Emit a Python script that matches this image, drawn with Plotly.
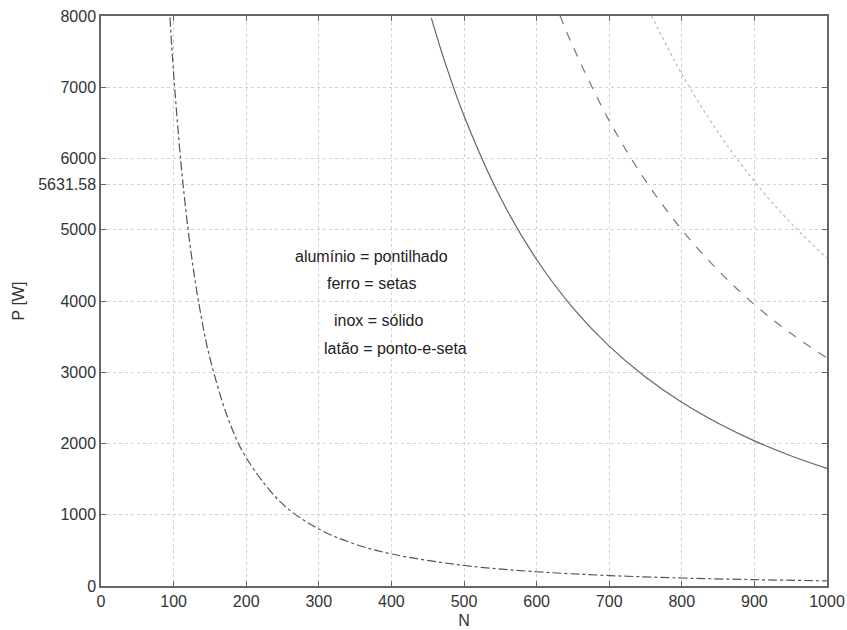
import plotly.graph_objects as go

# latão (ponto-e-seta, dash-dot)
latao_N = [95, 100, 110, 120, 130, 140, 150, 175, 200, 250, 300, 350, 400, 500, 600, 700, 800, 900, 1000]
latao_P = [7978, 7200, 5950, 5000, 4260, 3673, 3200, 2351, 1800, 1152, 800, 588, 450, 288, 200, 147, 112, 89, 72]

# inox (sólido)
inox_N = [455, 475, 500, 550, 600, 650, 700, 750, 800, 850, 900, 950, 1000]
inox_P = [7970, 7313, 6600, 5455, 4583, 3905, 3367, 2933, 2578, 2284, 2037, 1828, 1650]

# ferro (setas, dashed)
ferro_N = [632, 650, 700, 750, 800, 850, 900, 950, 1000]
ferro_P = [8011, 7574, 6531, 5689, 5000, 4429, 3951, 3546, 3200]

# alumínio (pontilhado, dotted)
alum_N = [758, 800, 850, 900, 950, 1000]
alum_P = [8006, 7188, 6367, 5679, 5097, 4600]

x_ticks = [0, 100, 200, 300, 400, 500, 600, 700, 800, 900, 1000]
y_ticks = [0, 1000, 2000, 3000, 4000, 5000, 5631.58, 6000, 7000, 8000]
y_ticktext = ["0", "1000", "2000", "3000", "4000", "5000", "5631.58", "6000", "7000", "8000"]

notes = [
    (264, 4618, "alumínio = pontilhado"),
    (309, 4239, "ferro = setas"),
    (318, 3733, "inox = sólido"),
    (304, 3340, "latão = ponto-e-seta"),
]

FONT = "Arial, Liberation Sans"

fig = go.Figure()
fig.add_trace(go.Scatter(x=latao_N, y=latao_P, mode="lines", line=dict(color="#555555", width=1.2, dash="dashdot", shape="spline")))
fig.add_trace(go.Scatter(x=inox_N, y=inox_P, mode="lines", line=dict(color="#666666", width=1.2, shape="spline")))
fig.add_trace(go.Scatter(x=ferro_N, y=ferro_P, mode="lines", line=dict(color="#777777", width=1.2, dash="dash", shape="spline")))
fig.add_trace(go.Scatter(x=alum_N, y=alum_P, mode="lines", line=dict(color="#bbbbbb", width=1.2, dash="dot", shape="spline")))

for x, y, t in notes:
    fig.add_annotation(x=x, y=y, text=t, showarrow=False, xanchor="left", yanchor="middle",
                       font=dict(family=FONT, size=16, color="#222222"))

axis_common = dict(showline=True, linecolor="#666666", linewidth=1.5, mirror="ticks",
                   ticks="inside", ticklen=5, tickcolor="#666666", automargin=False,
                   ticklabeloverflow="allow",
                   showgrid=True, gridcolor="#d0d0d0", griddash="dot", gridwidth=1,
                   zeroline=False, tickfont=dict(family=FONT, size=16, color="#333333"))

fig.update_xaxes(range=[0, 1000], tickvals=x_ticks, title=dict(text="N", standoff=6,
                 font=dict(family=FONT, size=16, color="#333333")), **axis_common)
fig.update_yaxes(range=[0, 8000], tickvals=y_ticks, ticktext=y_ticktext, title=dict(text="P [W]", standoff=10,
                 font=dict(family=FONT, size=16, color="#333333")), **axis_common)

fig.update_layout(width=847, height=630, margin=dict(l=101, r=20, t=16, b=44, autoexpand=False),
                  plot_bgcolor="white", paper_bgcolor="white", showlegend=False)

fig.write_html("out.html", config={"displayModeBar": False},
               post_script="document.body.style.margin='0';document.body.style.overflow='hidden';")
